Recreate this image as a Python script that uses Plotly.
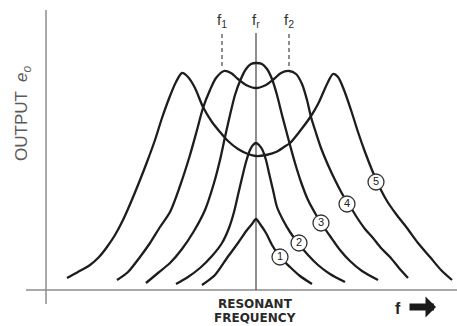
import plotly.graph_objects as go

# Coupled resonant circuits: output amplitude versus frequency for five
# degrees of coupling. Frequency is the offset from resonance (f - fr),
# output is measured above the baseline; both in arbitrary drawing units.

# 1 - loose coupling
c1_f = [-54, -41, -29, -18, -9, -4, 0, 4, 10, 16, 24, 34, 44, 56]
c1_e = [5, 15, 32, 47, 60, 66, 71, 66, 57, 45, 33, 23, 14, 6]

# 2 - below critical
c2_f = [-80, -68, -56, -44, -34, -27, -22, -18, -14, -10, -6, -3, 0, 3, 6, 10, 13,
        17, 21, 27, 34, 42, 52, 62, 74, 89]
c2_e = [6, 13, 22, 34, 47, 62, 78, 95, 112, 128, 140, 145, 147, 145, 141, 130, 117,
        100, 83, 70, 58, 47, 35, 25, 16, 8]

# 3 - critical coupling (flat top)
c3_f = [-110, -98, -86, -74, -62, -51, -42, -36, -31, -26, -21, -16, -10, -5, 0, 6,
        11, 16, 21, 26, 30, 34, 39, 45, 52, 59, 65, 74, 84, 94, 106, 122]
c3_e = [7, 17, 27, 41, 59, 80, 107, 130, 153, 175, 195, 209, 221, 226, 227, 226,
        221, 211, 195, 175, 160, 145, 127, 108, 90, 77, 67, 54, 40, 29, 19, 10]

# 4 - over-coupled, humps at f1 and f2
c4_f = [-139, -128, -116, -106, -96, -86, -76, -66, -59, -53, -46, -40, -32, -25,
        -18, -10, 0, 10, 18, 25, 33, 40, 46, 51, 55, 60, 65, 72, 80, 88, 94, 100,
        109, 117, 125, 134, 143, 152]
c4_e = [10, 18, 33, 47, 63, 78, 104, 135, 160, 182, 200, 212, 219, 217, 211, 205,
        202, 205, 211, 217, 219, 216, 206, 190, 173, 157, 142, 125, 108, 93, 84, 74,
        61, 52, 42, 33, 22, 12]

# 5 - tight coupling, deep dip at fr
c5_f = [-189, -178, -166, -157, -149, -141, -133, -125, -116, -109, -101, -94, -86,
        -80, -74, -68, -61, -53, -44, -36, -28, -18, -8, 0, 10, 20, 28, 34, 44, 55,
        62, 67, 72, 77, 82, 88, 95, 102, 109, 116, 123, 131, 140, 151, 162, 174,
        185, 196]
c5_e = [12, 18, 25, 33, 43, 55, 70, 88, 110, 128, 150, 172, 194, 208, 217, 213, 202,
        183, 168, 158, 149, 141, 136, 134, 135, 138, 143, 147, 159, 174, 186, 197,
        208, 216, 213, 200, 180, 158, 138, 120, 104, 89, 76, 62, 47, 33, 20, 10]

curves = [(c1_f, c1_e), (c2_f, c2_e), (c3_f, c3_e), (c4_f, c4_e), (c5_f, c5_e)]

# circled curve numbers, placed on each curve's right flank
label_text = ["1", "2", "3", "4", "5"]
label_f = [24, 43, 65, 91, 120]
label_e = [33, 47, 67, 86, 108]

# marked frequencies
f1, fr, f2 = -34, 0, 33

INK = "#1d1d1d"

fig = go.Figure()

for f, e in curves:
    fig.add_trace(go.Scatter(
        x=f, y=e, mode="lines",
        line=dict(color=INK, width=2.3, shape="spline", smoothing=0.8),
        hoverinfo="skip", showlegend=False))

fig.add_trace(go.Scatter(
    x=label_f, y=label_e, mode="markers+text", text=label_text,
    textposition="middle center",
    textfont=dict(family="Liberation Sans", size=11, color="#222"),
    marker=dict(symbol="circle", size=16, color="white",
                line=dict(color="#333", width=1.3)),
    hoverinfo="skip", showlegend=False))

shapes = [
    # axes, crossing near the origin
    dict(type="line", x0=-230, x1=201, y0=0, y1=0,
         line=dict(color="#8c8c8c", width=1.5), layer="below"),
    dict(type="line", x0=-210, x1=-210, y0=-14, y1=280,
         line=dict(color="#8c8c8c", width=1.5), layer="below"),
    # resonance line
    dict(type="line", x0=fr, x1=fr, y0=0, y1=257,
         line=dict(color="#444", width=1.2), layer="below"),
    # hump frequencies
    dict(type="line", x0=f1, x1=f1, y0=224, y1=257,
         line=dict(color="#444", width=1.2, dash="4px,3px"), layer="below"),
    dict(type="line", x0=f2, x1=f2, y0=224, y1=257,
         line=dict(color="#444", width=1.2, dash="4px,3px"), layer="below"),
]

ann_font = dict(family="Liberation Sans", size=15, color="#333")
annotations = [
    dict(x=f1, y=270, text="f<sub>1</sub>", showarrow=False, font=ann_font),
    dict(x=fr, y=270, text="f<sub>r</sub>", showarrow=False, font=ann_font),
    dict(x=f2, y=270, text="f<sub>2</sub>", showarrow=False, font=ann_font),
    dict(x=-233, y=177, text="OUTPUT  <i>e</i><sub><i>o</i></sub>", textangle=-90,
         showarrow=False,
         font=dict(family="Liberation Sans", size=17, color="#5a5a5a")),
    dict(x=-1, y=-14, text="<b>RESONANT</b>", showarrow=False,
         font=dict(family="DejaVu Sans", size=12, color="#2a2a2a")),
    dict(x=-1, y=-28, text="<b>FREQUENCY</b>", showarrow=False,
         font=dict(family="DejaVu Sans", size=12, color="#2a2a2a")),
    dict(x=142, y=-18, text="<b>f</b>", showarrow=False,
         font=dict(family="Liberation Sans", size=16, color="#222")),
    dict(x=180, y=-17, text="", showarrow=True, ax=-28, ay=0,
         arrowhead=1, arrowwidth=7, arrowsize=0.5, arrowcolor="#1a1a1a"),
]

fig.update_layout(
    width=457, height=326, autosize=False,
    margin=dict(l=0, r=0, t=0, b=0),
    paper_bgcolor="white", plot_bgcolor="white",
    xaxis=dict(range=[-256, 201], visible=False, fixedrange=True),
    yaxis=dict(range=[-36, 290], visible=False, fixedrange=True),
    shapes=shapes, annotations=annotations,
    showlegend=False,
)

fig.write_html("out.html")
